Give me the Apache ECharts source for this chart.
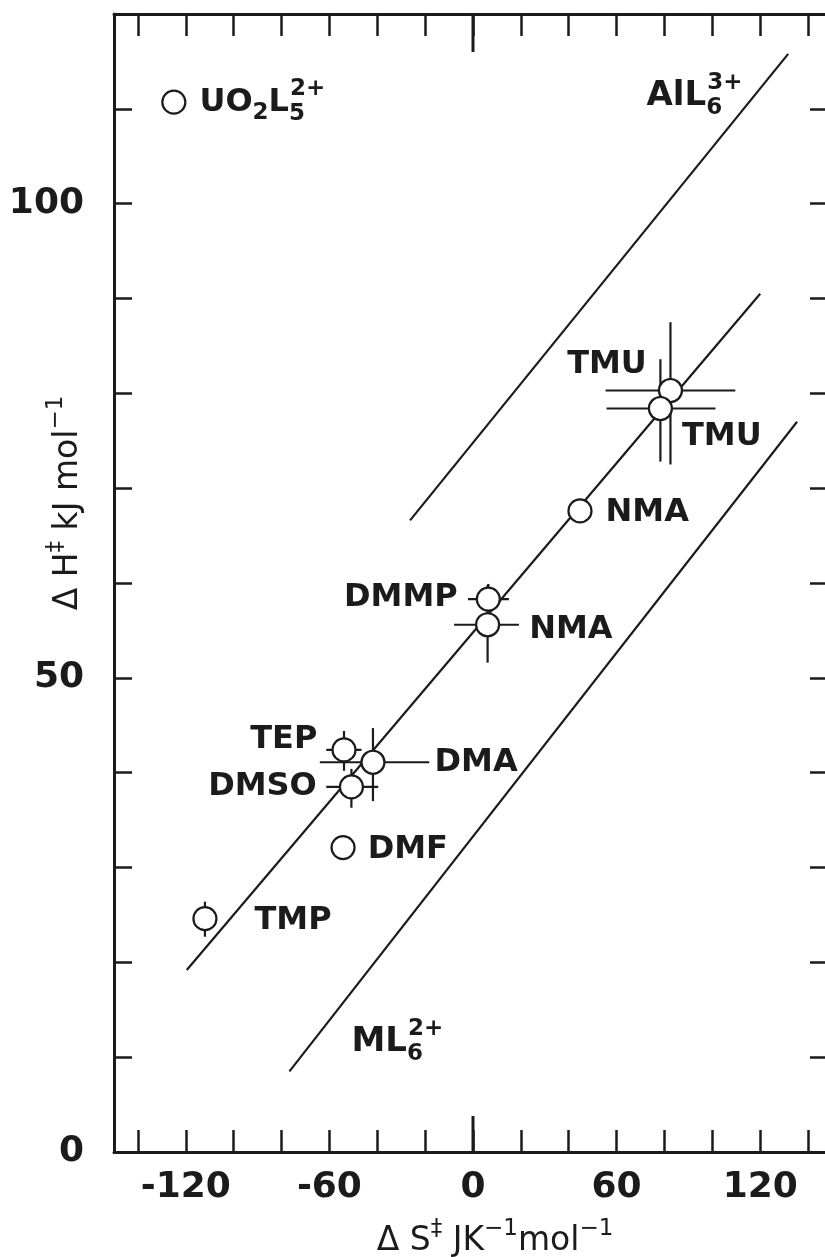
<!DOCTYPE html>
<html><head><meta charset="utf-8">
<script src="https://cdn.jsdelivr.net/npm/echarts@6/dist/echarts.min.js"></script>
<style>html,body{margin:0;padding:0;background:#fff}#c{width:825px;height:1257px}</style>
</head><body><div id="c"></div>
<script>
// ---------- data ----------
const solventLabels = ['UO{sub|2}L{subS|5}{sup|2+}', 'TMU', 'TMU', 'NMA', 'DMMP', 'NMA', 'TEP', 'DMA', 'DMSO', 'DMF', 'TMP'];
const dS  = [-125, 82.5, 78.3, 44.7, 6.4, 6.1, -53.9, -41.8, -50.8, -54.3, -112];
const dH  = [110.7, 80.3, 78.4, 67.6, 58.3, 55.6, 42.4, 41.1, 38.5, 32.1, 24.6];
const dSlow  = [null, 55.4, 55.8, null, -2.1, -7.9, -61.3, -64.0, -61.3, null, null];
const dShigh = [null, 109.6, 101.3, null, 15.0, 19.2, -46.6, -18.3, -39.6, null, null];
const dHlow  = [null, 72.5, 72.8, null, 56.7, 51.6, 40.2, 37.0, 36.3, null, 22.7];
const dHhigh = [null, 87.5, 83.6, null, 59.9, 59.8, 44.4, 44.7, 40.4, null, 26.4];

// correlation lines
const lineNames  = ['AlL6', 'ML6 middle', 'ML6'];
const lineS0 = [-26.3, -119.6, -76.7];
const lineH0 = [66.6, 19.2, 8.5];
const lineS1 = [131.7, 120.0, 135.4];
const lineH1 = [115.8, 90.5, 77.0];

// line annotations
const annoText = ['AlL{subS|6}{sup|3+}', 'ML{subS|6}{sup|2+}'];
const annoS = [72.5, -50.8];
const annoH = [111.3, 11.6];

// axes
const xMin = -150, xMax = 150, yMin = 0, yMax = 120;
const xTickValues = [-140, -120, -100, -80, -60, -40, -20, 0, 20, 40, 60, 80, 100, 120, 140];
const xLabelValues = [-120, -60, 0, 60, 120];
const yLabelValues = [0, 50, 100];
const xMajorTicks = [0];

// ---------- styles ----------
const INK = '#1b1b1b';
const FONT = 'DejaVu Sans';
const labelPlacement = [
  {position: 'right', distance: 13, offset: [0, 0]},
  {position: 'left', distance: 11, offset: [0, -26]},
  {position: 'right', distance: 9, offset: [0, 28]},
  {position: 'right', distance: 13, offset: [0, 2]},
  {position: 'left', distance: 18, offset: [0, -1]},
  {position: 'right', distance: 29, offset: [0, 5]},
  {position: 'left', distance: 14, offset: [0, -10]},
  {position: 'right', distance: 49, offset: [0, 0]},
  {position: 'left', distance: 22, offset: [0, 0]},
  {position: 'right', distance: 12, offset: [0, 2]},
  {position: 'right', distance: 37, offset: [0, 2]}
];
const rich = {
  sub:  {fontSize: 23, fontFamily: FONT, fontWeight: 'bold', color: INK, padding: [22, 0, 0, 0]},
  subS: {fontSize: 23, fontFamily: FONT, fontWeight: 'bold', color: INK, padding: [24, 0, 0, 0], width: 1},
  sup:  {fontSize: 23, fontFamily: FONT, fontWeight: 'bold', color: INK, padding: [0, 0, 26, 0]}
};
const nameRich = {
  m:   {fontSize: 33, fontFamily: FONT, color: INK},
  sup: {fontSize: 23, fontFamily: FONT, color: INK, padding: [0, 0, 24, 0]}
};
const axisLine = {show: true, onZero: false, lineStyle: {color: INK, width: 3}};
const tickLine = {color: INK, width: 2.5};

const chart = echarts.init(document.getElementById('c'), null, {renderer: 'canvas'});

const series = [];
lineNames.forEach((n, i) => {
  series.push({
    type: 'line', name: n, z: 1, symbol: 'none', silent: true,
    data: [[lineS0[i], lineH0[i]], [lineS1[i], lineH1[i]]],
    lineStyle: {color: INK, width: 2.2}
  });
});
series.push({
  type: 'custom', name: 'errors', z: 2, silent: true,
  data: dS.map((s, i) => [s, dH[i]]),
  renderItem: function (params, api) {
    const i = params.dataIndex;
    const children = [];
    const st = {stroke: INK, lineWidth: 2.2};
    if (dSlow[i] != null) {
      const a = api.coord([dSlow[i], dH[i]]), b = api.coord([dShigh[i], dH[i]]);
      children.push({type: 'line', shape: {x1: a[0], y1: a[1], x2: b[0], y2: b[1]}, style: st});
    }
    if (dHlow[i] != null) {
      const a = api.coord([dS[i], dHlow[i]]), b = api.coord([dS[i], dHhigh[i]]);
      children.push({type: 'line', shape: {x1: a[0], y1: a[1], x2: b[0], y2: b[1]}, style: st});
    }
    return {type: 'group', children: children};
  }
});
series.push({
  type: 'scatter', name: 'solvents', z: 3, symbol: 'circle', symbolSize: 23,
  itemStyle: {color: '#fff', borderColor: INK, borderWidth: 2.2, opacity: 1},
  label: {show: true, color: INK, opacity: 1, fontFamily: FONT, fontWeight: 'bold', fontSize: 32, rich: rich},
  data: dS.map((s, i) => ({
    value: [s, dH[i]],
    label: Object.assign({formatter: solventLabels[i]}, labelPlacement[i])
  }))
});
series.push({
  type: 'scatter', name: 'annotations', z: 3, symbolSize: 0, silent: true,
  itemStyle: {opacity: 1, color: INK},
  label: {show: true, position: 'right', distance: 0, color: INK, opacity: 1, fontFamily: FONT, fontWeight: 'bold', fontSize: 34, rich: rich},
  data: annoText.map((t, i) => ({value: [annoS[i], annoH[i]], label: {formatter: t}}))
});
series.push({
  type: 'custom', name: 'majorTicks', z: 4, silent: true, clip: false,
  data: xMajorTicks.map(v => [v, yMin]),
  renderItem: function (params, api) {
    const x = api.value(0);
    const b = api.coord([x, yMin]), t = api.coord([x, yMax]);
    const px = Math.round(b[0]);
    const st = {stroke: INK, lineWidth: 3};
    return {type: 'group', children: [
      {type: 'line', shape: {x1: px, y1: b[1], x2: px, y2: b[1] - 36}, style: st},
      {type: 'line', shape: {x1: px, y1: t[1], x2: px, y2: t[1] + 38}, style: st}
    ]};
  }
});

const option = {
  animation: false,
  backgroundColor: '#fff',
  grid: {left: 114, right: -7, top: 14, bottom: 105, containLabel: false, outerBoundsMode: 'none'},
  xAxis: [
    {
      type: 'value', min: xMin, max: xMax, position: 'bottom',
      axisLine: axisLine,
      axisTick: {show: true, inside: true, length: 22, customValues: xTickValues, lineStyle: tickLine},
      axisLabel: {show: true, customValues: xLabelValues, margin: 18, fontSize: 36, fontFamily: FONT, fontWeight: 'bold', color: INK},
      splitLine: {show: false},
      name: '{m|Δ S}{sup|‡}{m| JK}{sup|−1}{m|mol}{sup|−1}',
      nameLocation: 'middle', nameGap: 66, nameMoveOverlap: false,
      nameTextStyle: {rich: nameRich, padding: [0, 0, 0, 44]}
    },
    {
      type: 'value', min: xMin, max: xMax, position: 'top',
      axisLine: axisLine,
      axisTick: {show: true, inside: true, length: 22, customValues: xTickValues, lineStyle: tickLine},
      axisLabel: {show: false},
      splitLine: {show: false}
    }
  ],
  yAxis: [
    {
      type: 'value', min: yMin, max: yMax, interval: 10, position: 'left',
      axisLine: axisLine,
      axisTick: {show: true, inside: true, length: 18, lineStyle: tickLine},
      axisLabel: {show: true, customValues: yLabelValues, margin: 30, fontSize: 36, fontFamily: FONT, fontWeight: 'bold', color: INK},
      splitLine: {show: false},
      name: '{m|Δ H}{sup|‡}{m| kJ mol}{sup|−1}',
      nameLocation: 'middle', nameRotate: 90, nameGap: 22, nameMoveOverlap: false,
      nameTextStyle: {rich: nameRich, padding: [0, 0, 0, 160]}
    },
    {
      type: 'value', min: yMin, max: yMax, interval: 10, position: 'right',
      axisLine: axisLine,
      axisTick: {show: true, inside: true, length: 22, lineStyle: tickLine},
      axisLabel: {show: false},
      splitLine: {show: false}
    }
  ],
  series: series
};
chart.setOption(option);
</script>
</body></html>
